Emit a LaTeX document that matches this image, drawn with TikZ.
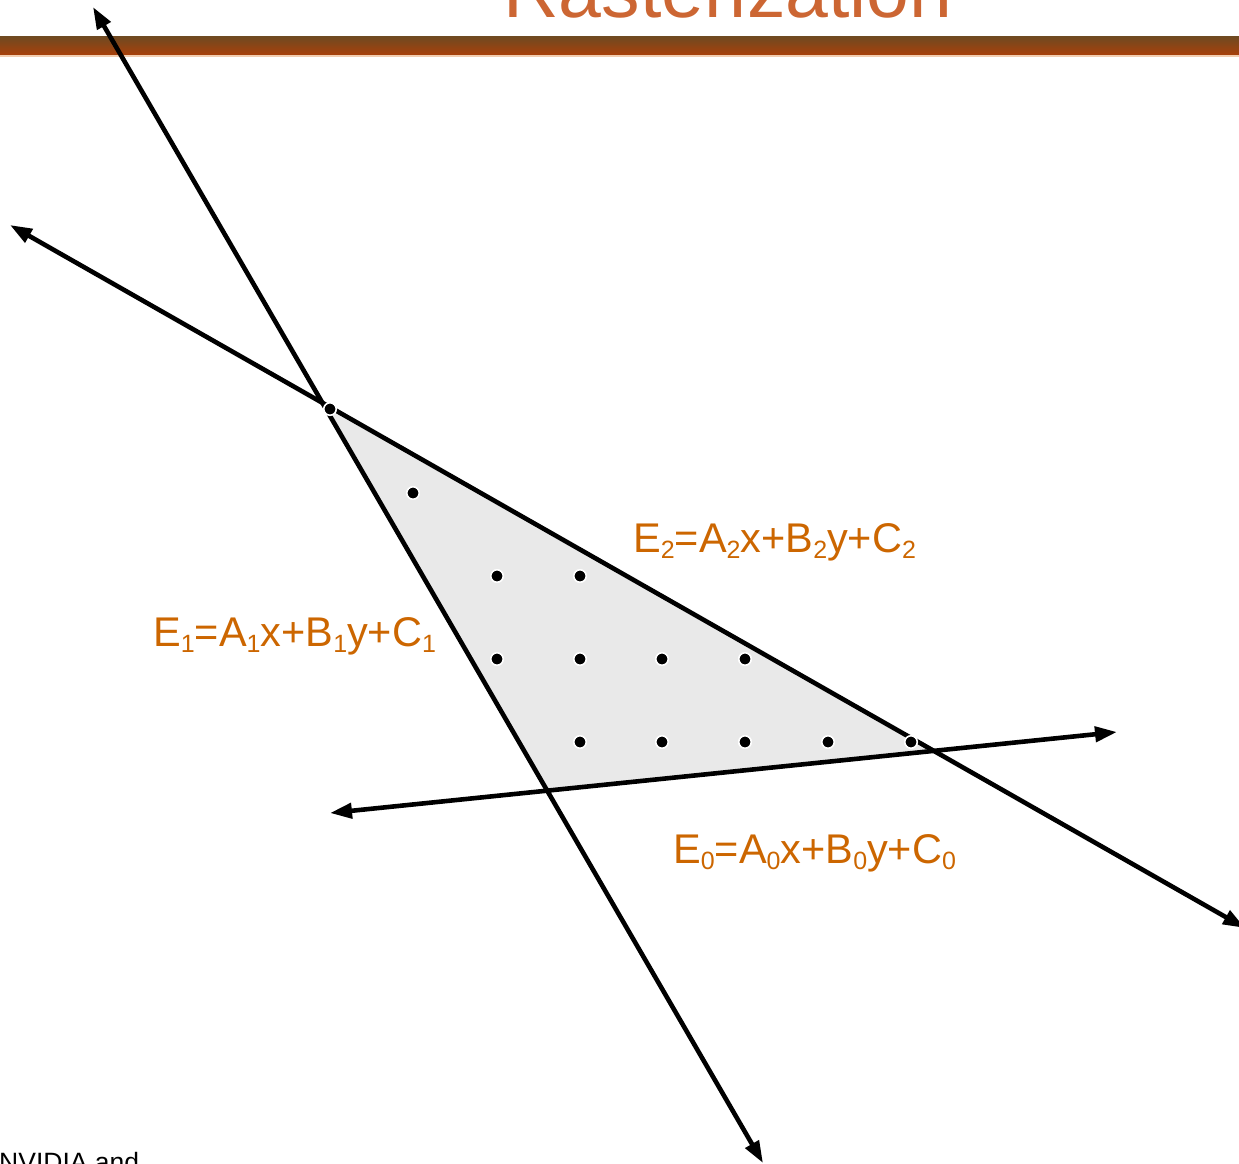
\documentclass[tikz,border=0pt]{standalone}
\usepackage{fontspec}
\setmainfont{Liberation Sans}
\usetikzlibrary{arrows.meta,calc}
\definecolor{lblorange}{HTML}{CC6600}
\definecolor{titleorange}{HTML}{CC6633}
\definecolor{bartop}{HTML}{6E4A22}
\definecolor{barbot}{HTML}{A8400A}
\definecolor{barline}{HTML}{F2CDB0}
\definecolor{trifill}{HTML}{E9E9E9}
\newcommand\sbs[1]{\raisebox{-6pt}{\fontsize{25pt}{25pt}\selectfont #1}}
\begin{document}
\begin{tikzpicture}[x=1pt,y=-1pt,
  edgeline/.style={line width=4.6pt,{Triangle[length=22pt,width=15pt]}-{Triangle[length=22pt,width=15pt]}},
  lbl/.style={text=lblorange,font=\fontsize{41.5pt}{41.5pt}\selectfont,inner sep=0pt,anchor=base west},
  pt/.style={circle,fill=black,draw=white,line width=1.6pt,inner sep=0pt,minimum size=12.5pt}
]
\useasboundingbox (0,0) rectangle (1239,1163);
\clip (0,0) rectangle (1239,1163);
% title and bar
\node[text=titleorange,font=\fontsize{77pt}{77pt}\selectfont,inner sep=0pt,anchor=base west] (title) at (503,17) {Rasterization};
\shade[top color=bartop,bottom color=barbot] (0,36) rectangle (1239,55);
\draw[barline,line width=1.5pt] (0,56) -- (1239,56);
% line end points
\coordinate (e1a) at (93,7);
\coordinate (e1b) at (763,1163);
\coordinate (e2a) at (10,225);
\coordinate (e2b) at (1245,928);
\coordinate (e0a) at (330,813);
\coordinate (e0b) at (1117,732);
\coordinate (vt) at (intersection of e1a--e1b and e2a--e2b);
\coordinate (vl) at (intersection of e1a--e1b and e0a--e0b);
\coordinate (vr) at (intersection of e2a--e2b and e0a--e0b);
\fill[trifill] (vt) -- (vl) -- (vr) -- cycle;
\draw[edgeline] (e1a) -- (e1b);
\draw[edgeline] (e2a) -- (e2b);
\draw[edgeline] (e0a) -- (e0b);
% sample points
\node[pt] (d0) at (330,409) {};
\node[pt] (d1) at (413,493) {};
\node[pt] (d2) at (497,576) {};
\node[pt] (d3) at (580,576) {};
\node[pt] (d4) at (497,659) {};
\node[pt] (d5) at (580,659) {};
\node[pt] (d6) at (662,659) {};
\node[pt] (d7) at (745,659) {};
\node[pt] (d8) at (580,742) {};
\node[pt] (d9) at (662,742) {};
\node[pt] (d10) at (745,742) {};
\node[pt] (d11) at (828,742) {};
\node[pt] (d12) at (911,742) {};
% labels
\node[lbl] (l2) at (633,552) {E\sbs{2}=A\sbs{2}x+B\sbs{2}y+C\sbs{2}};
\node[lbl] (l1) at (153,646) {E\sbs{1}=A\sbs{1}x+B\sbs{1}y+C\sbs{1}};
\node[lbl] (l0) at (673,863) {E\sbs{0}=A\sbs{0}x+B\sbs{0}y+C\sbs{0}};
% footer
\node[font=\fontsize{26.5pt}{26.5pt}\selectfont,inner sep=0pt,anchor=base west] (foot) at (-1,1171) {NVIDIA and};
\end{tikzpicture}
\end{document}
